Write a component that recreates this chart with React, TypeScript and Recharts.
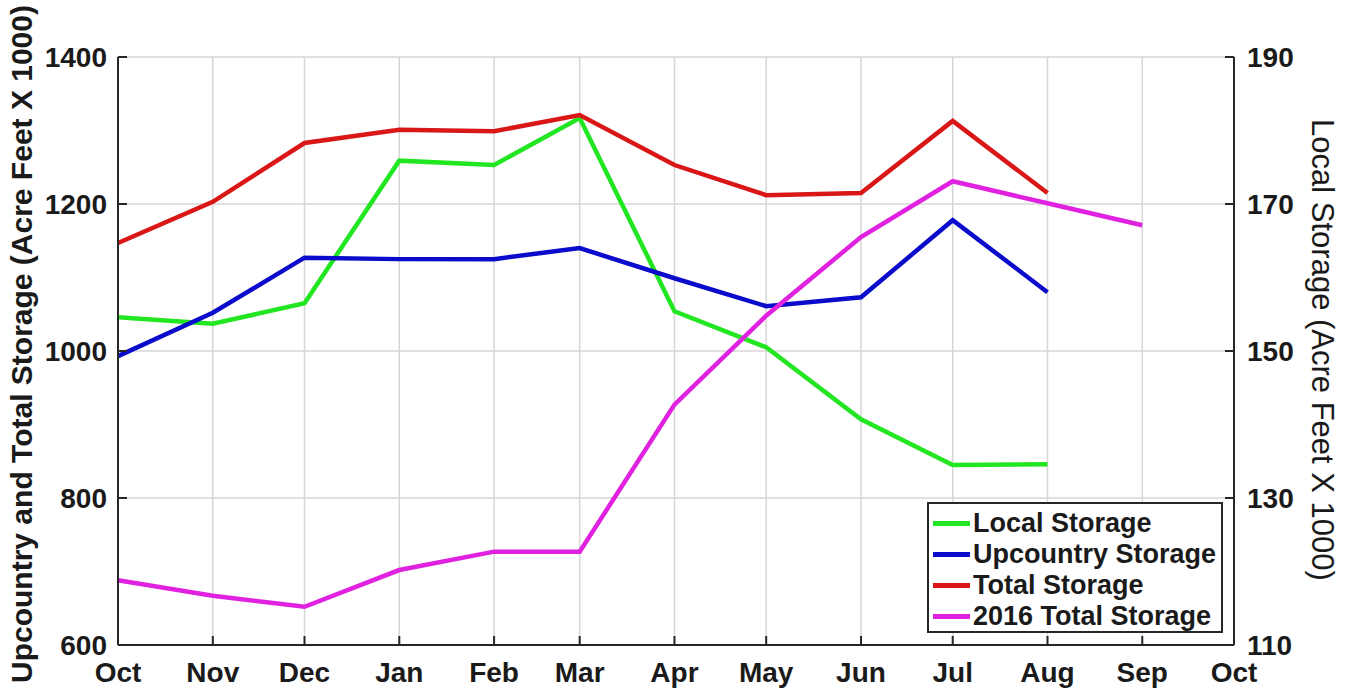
import React from 'react';
import { LineChart, Line, XAxis, YAxis, CartesianGrid } from 'recharts';

// Water-year months (Oct → Oct), positioned by day offset from 1 Oct
const monthLabels = ['Oct', 'Nov', 'Dec', 'Jan', 'Feb', 'Mar', 'Apr', 'May', 'Jun', 'Jul', 'Aug', 'Sep', 'Oct'];
const monthDays = [0, 31, 61, 92, 123, 151, 182, 212, 243, 273, 304, 335, 365];

// Storage values (Acre Feet x 1000)
const localStorageVals = [154.6, 153.7, 156.5, 175.9, 175.3, 181.7, 155.4, 150.5, 140.7, 134.5, 134.6];
const upcountryStorage = [993, 1052, 1127, 1125, 1125, 1140, 1099, 1061, 1073, 1178, 1080];
const totalStorage = [1147, 1203, 1283, 1301, 1299, 1321, 1253, 1212, 1215, 1313, 1215];
const total2016Storage = [688, 667, 652, 702, 727, 727, 927, 1048, 1155, 1231, 1201, 1171];

const leftTicks = [600, 800, 1000, 1200, 1400];
const rightTicks = [110, 130, 150, 170, 190];

const FONT = '"Liberation Sans", Arial, sans-serif';
const AXIS = '#262626';
const TICK_FONT = 28;

const COLORS = {
  local: '#22e622',
  up: '#0b0bcc',
  total: '#d91717',
  t2016: '#e022e0',
};

const data = monthDays.map((day, i) => ({
  day,
  local: i < localStorageVals.length ? localStorageVals[i] : null,
  up: i < upcountryStorage.length ? upcountryStorage[i] : null,
  total: i < totalStorage.length ? totalStorage[i] : null,
  t2016: i < total2016Storage.length ? total2016Storage[i] : null,
}));

const legendItems = [
  { label: 'Local Storage', color: COLORS.local },
  { label: 'Upcountry Storage', color: COLORS.up },
  { label: 'Total Storage', color: COLORS.total },
  { label: '2016 Total Storage', color: COLORS.t2016 },
];

const BottomTick = (props: any) => {
  const { x, y, payload } = props;
  const idx = monthDays.indexOf(payload.value);
  return (
    <g>
      <line x1={x} x2={x} y1={y} y2={y - 9} stroke={AXIS} strokeWidth={2} />
      <text x={x} y={y + 37} textAnchor="middle" fontFamily={FONT} fontWeight="bold" fontSize={TICK_FONT} fill="#1a1a1a">
        {idx >= 0 ? monthLabels[idx] : ''}
      </text>
    </g>
  );
};

const TopTick = (props: any) => {
  const { x, y } = props;
  return <line x1={x} x2={x} y1={y} y2={y + 9} stroke={AXIS} strokeWidth={2} />;
};

const LeftTick = (props: any) => {
  const { x, y, payload } = props;
  return (
    <g>
      <line x1={x} x2={x + 9} y1={y} y2={y} stroke={AXIS} strokeWidth={2} />
      <text x={x - 11} y={y} dy="0.36em" textAnchor="end" fontFamily={FONT} fontWeight="bold" fontSize={TICK_FONT} fill="#1a1a1a">
        {payload.value}
      </text>
    </g>
  );
};

const RightTick = (props: any) => {
  const { x, y, payload } = props;
  return (
    <g>
      <line x1={x} x2={x - 9} y1={y} y2={y} stroke={AXIS} strokeWidth={2} />
      <text x={x + 13} y={y} dy="0.36em" textAnchor="start" fontFamily={FONT} fontWeight="bold" fontSize={TICK_FONT} fill="#1a1a1a">
        {payload.value}
      </text>
    </g>
  );
};

const LegendBox = () => (
  <div
    style={{
      position: 'absolute',
      left: 927,
      top: 502,
      width: 296,
      height: 131,
      boxSizing: 'border-box',
      border: '2px solid #262626',
      background: '#fff',
      paddingTop: 4,
      paddingLeft: 4,
      fontFamily: FONT,
      fontWeight: 'bold',
      fontSize: 27,
      color: '#1a1a1a',
    }}
  >
    {legendItems.map((it) => (
      <div key={it.label} style={{ display: 'flex', alignItems: 'center', height: 31, whiteSpace: 'nowrap' }}>
        <span style={{ display: 'inline-block', width: 37, height: 5, background: it.color, marginRight: 3 }} />
        <span>{it.label}</span>
      </div>
    ))}
  </div>
);

export default function App() {
  return (
    <div style={{ position: 'absolute', left: 0, top: 0, width: 1350, height: 689, background: '#fff' }}>
      <LineChart
        width={1350}
        height={689}
        data={data}
        margin={{ top: 57, right: 0, bottom: 0, left: 0 }}
      >
        <CartesianGrid yAxisId="left" stroke="#d6d6d6" strokeWidth={1.5} />
        <XAxis
          dataKey="day"
          type="number"
          domain={[0, 365]}
          ticks={monthDays}
          interval={0}
          height={44}
          tickSize={0}
          tickMargin={0}
          axisLine={{ stroke: AXIS, strokeWidth: 2 }}
          tickLine={false}
          tick={BottomTick}
        />
        <XAxis
          xAxisId="top"
          orientation="top"
          dataKey="day"
          type="number"
          domain={[0, 365]}
          ticks={monthDays}
          interval={0}
          height={0}
          tickSize={0}
          tickMargin={0}
          axisLine={{ stroke: AXIS, strokeWidth: 2 }}
          tickLine={false}
          tick={TopTick}
        />
        <YAxis
          yAxisId="left"
          domain={[600, 1400]}
          ticks={leftTicks}
          interval={0}
          width={118}
          tickSize={0}
          tickMargin={0}
          axisLine={{ stroke: AXIS, strokeWidth: 2 }}
          tickLine={false}
          tick={LeftTick}
          allowDataOverflow
        />
        <YAxis
          yAxisId="right"
          orientation="right"
          domain={[110, 190]}
          ticks={rightTicks}
          interval={0}
          width={116}
          tickSize={0}
          tickMargin={0}
          axisLine={{ stroke: AXIS, strokeWidth: 2 }}
          tickLine={false}
          tick={RightTick}
          allowDataOverflow
        />
        <Line yAxisId="right" dataKey="local" stroke={COLORS.local} strokeWidth={4.5} dot={false} isAnimationActive={false} />
        <Line yAxisId="left" dataKey="up" stroke={COLORS.up} strokeWidth={4.5} dot={false} isAnimationActive={false} />
        <Line yAxisId="left" dataKey="total" stroke={COLORS.total} strokeWidth={4.5} dot={false} isAnimationActive={false} />
        <Line yAxisId="left" dataKey="t2016" stroke={COLORS.t2016} strokeWidth={4.5} dot={false} isAnimationActive={false} />
      </LineChart>
      <LegendBox />
      <svg
        width={1350}
        height={689}
        style={{ position: 'absolute', left: 0, top: 0, pointerEvents: 'none' }}
      >
        <text
          transform="translate(21,344) rotate(-90)"
          textAnchor="middle"
          dominantBaseline="central"
          fontFamily={FONT}
          fontWeight="bold"
          fontSize={30}
          fill="#1a1a1a"
        >
          Upcountry and Total Storage (Acre Feet X 1000)
        </text>
        <text
          transform="translate(1322,350) rotate(90)"
          textAnchor="middle"
          dominantBaseline="central"
          fontFamily={FONT}
          fontSize={31}
          fill="#1a1a1a"
        >
          Local Storage (Acre Feet X 1000)
        </text>
      </svg>
    </div>
  );
}
